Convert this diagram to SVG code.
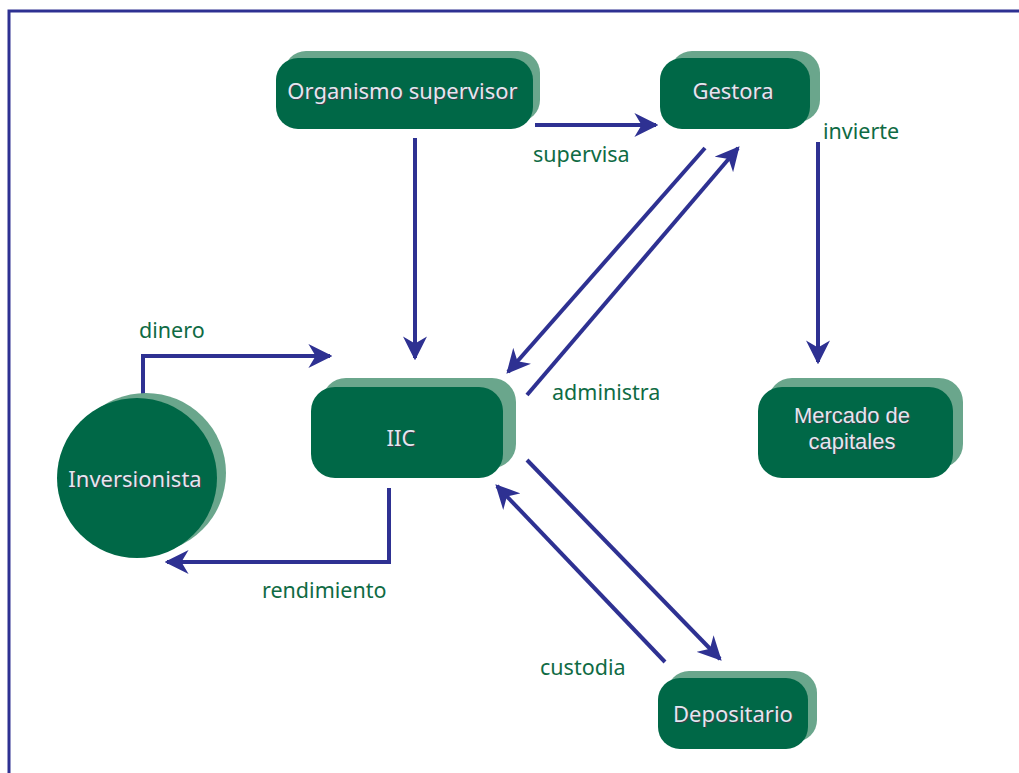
<svg xmlns="http://www.w3.org/2000/svg" width="1019" height="773" viewBox="0 0 1019 773">
<defs>
<style>
.sh{fill:#6aa68c}
.fr{fill:#006847}
.nt{font-family:"Noto Sans","Liberation Sans",sans-serif;font-size:22px;fill:#e3e6ef;text-anchor:middle;dominant-baseline:central}
.ns{font-family:"Noto Sans","Liberation Sans",sans-serif;font-size:22px;fill:#3a3f4a;text-anchor:middle;dominant-baseline:central}
.lm{font-family:"Liberation Sans",Arial,sans-serif;font-size:22px}
.lb{font-family:"Noto Sans","Liberation Sans",sans-serif;font-size:21.5px;fill:#0f6b44;dominant-baseline:central}
.cn{fill:none;stroke:#2e3192;stroke-width:4}
</style>
<marker id="ah" viewBox="0 0 10 10" refX="9" refY="5" markerWidth="6" markerHeight="6" markerUnits="strokeWidth" orient="auto">
<path d="M0,0 L10,5 L0,10 L3,5 Z" fill="#2e3192"/>
</marker>
</defs>
<rect width="1019" height="773" fill="#fff"/>
<path d="M9,773 V11 H1019" fill="none" stroke="#2e3192" stroke-width="3"/>

<g id="connectors">
<path class="cn" d="M415,138 V358" marker-end="url(#ah)"/>
<path class="cn" d="M535,125 H656" marker-end="url(#ah)"/>
<path class="cn" d="M143,394 V356 H330" marker-end="url(#ah)"/>
<path class="cn" d="M389,488 V562 H167" marker-end="url(#ah)"/>
<path class="cn" d="M705,148 L508,372" marker-end="url(#ah)"/>
<path class="cn" d="M527,395 L738,148" marker-end="url(#ah)"/>
<path class="cn" d="M818,142 V362" marker-end="url(#ah)"/>
<path class="cn" d="M527,460 L720,659" marker-end="url(#ah)"/>
<path class="cn" d="M665,662 L497,486" marker-end="url(#ah)"/>
</g>

<g id="labels">
<text class="lb" x="533" y="153">supervisa</text>
<text class="lb" x="823" y="130">invierte</text>
<text class="lb" x="139" y="329">dinero</text>
<text class="lb" x="552" y="391">administra</text>
<text class="lb" x="262" y="589">rendimiento</text>
<text class="lb" x="540" y="666">custodia</text>
</g>

<g id="organismo">
<rect class="sh" x="284" y="51" width="256" height="71" rx="22"/>
<rect class="fr" x="276" y="58" width="257" height="71" rx="22"/>
<text class="ns" x="403.5" y="91">Organismo supervisor</text>
<text class="nt" x="402.5" y="90">Organismo supervisor</text>
</g>

<g id="gestora">
<rect class="sh" x="670" y="51" width="150" height="71" rx="22"/>
<rect class="fr" x="660" y="58" width="150" height="71" rx="22"/>
<text class="ns" x="734" y="91">Gestora</text>
<text class="nt" x="733" y="90">Gestora</text>
</g>

<g id="iic">
<rect class="sh" x="322" y="378" width="194" height="90" rx="24"/>
<rect class="fr" x="311" y="387" width="192" height="91" rx="24"/>
<text class="ns" x="402" y="438">IIC</text>
<text class="nt" x="401" y="437">IIC</text>
</g>

<g id="mercado">
<rect class="sh" x="768" y="378" width="195" height="90" rx="24"/>
<rect class="fr" x="758" y="387" width="195" height="91" rx="24"/>
<text class="ns lm"><tspan x="853" y="416">Mercado de</tspan><tspan x="853" y="442">capitales</tspan></text>
<text class="nt lm"><tspan x="852" y="415">Mercado de</tspan><tspan x="852" y="441">capitales</tspan></text>
</g>

<g id="depositario">
<rect class="sh" x="667" y="671" width="150" height="71" rx="22"/>
<rect class="fr" x="658" y="678" width="150" height="71" rx="22"/>
<text class="ns" x="734" y="714">Depositario</text>
<text class="nt" x="733" y="713">Depositario</text>
</g>

<g id="inversionista">
<circle class="sh" cx="146" cy="473" r="80"/>
<circle class="fr" cx="137" cy="478" r="80"/>
<text class="ns" x="136" y="479">Inversionista</text>
<text class="nt" x="135" y="478">Inversionista</text>
</g>
</svg>
